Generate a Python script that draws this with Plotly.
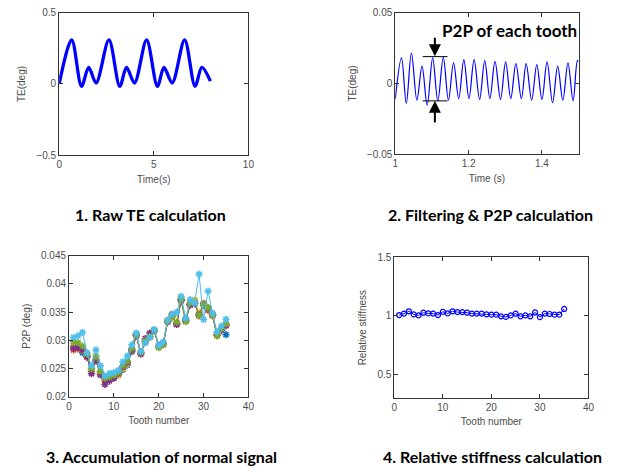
import plotly.graph_objects as go

W, H = 625, 475

# ---------- data ----------
# Panel 1: raw TE (key points)
raw_t = [0.0, 0.66, 1.18, 1.56, 1.95, 2.63, 3.20, 3.56, 3.98, 4.62, 5.19, 5.54, 5.97, 6.63, 7.18, 7.54, 7.99]
raw_te = [0.0, 0.31, -0.016, 0.116, 0.007, 0.31, -0.016, 0.116, 0.007, 0.31, -0.016, 0.116, 0.007, 0.31, -0.016, 0.116, 0.02]

# Panel 2: filtered TE (alternating peaks / troughs)
filt_t = [1.000, 1.017, 1.030, 1.044, 1.059, 1.073, 1.087, 1.102, 1.116, 1.131, 1.145, 1.159, 1.173,
          1.187, 1.201, 1.215, 1.230, 1.244, 1.258, 1.272, 1.287, 1.301, 1.315, 1.329, 1.344,
          1.357, 1.372, 1.386, 1.400, 1.414, 1.429, 1.443, 1.457, 1.471, 1.485, 1.497, 1.500]
filt_te = [-0.0110, 0.0181, -0.0141, 0.0215, -0.0118, 0.0123, -0.0153, 0.0181, -0.0123, 0.0185, -0.0118,
           0.0146, -0.0107, 0.0169, -0.0107, 0.0169, -0.0113, 0.0162, -0.0107, 0.0157, -0.0113,
           0.0153, -0.0107, 0.0141, -0.0107, 0.0141, -0.0118, 0.0134, -0.0113, 0.0153, -0.0136,
           0.0123, -0.0118, 0.0146, -0.0123, 0.0162, 0.0158]

# Panel 3: P2P per tooth, several runs
tooth = list(range(1, 36))
p2p_blue = [0.0290, 0.0288, 0.0278, 0.0272, 0.0250, 0.0266, 0.0244, 0.0232, 0.0235, 0.0236, 0.0240, 0.0248,
            0.0256, 0.0280, 0.0308, 0.0278, 0.0296, 0.0306, 0.0317, 0.0290, 0.0293, 0.0334, 0.0345, 0.0330,
            0.0372, 0.0337, 0.0364, 0.0365, 0.0347, 0.0362, 0.0355, 0.0345, 0.0310, 0.0318, 0.0310]
p2p_orange = [0.0283, 0.0285, 0.0282, 0.0270, 0.0245, 0.0265, 0.0240, 0.0228, 0.0232, 0.0234, 0.0240, 0.0252,
              0.0260, 0.0282, 0.0309, 0.0276, 0.0298, 0.0306, 0.0318, 0.0289, 0.0292, 0.0333, 0.0342, 0.0328,
              0.0370, 0.0334, 0.0362, 0.0370, 0.0343, 0.0365, 0.0353, 0.0343, 0.0309, 0.0319, 0.0327]
p2p_yellow = [0.0290, 0.0292, 0.0287, 0.0273, 0.0247, 0.0268, 0.0242, 0.0229, 0.0231, 0.0233, 0.0238, 0.0250,
              0.0258, 0.0283, 0.0310, 0.0277, 0.0300, 0.0308, 0.0318, 0.0288, 0.0294, 0.0336, 0.0344, 0.0332,
              0.0375, 0.0335, 0.0366, 0.0371, 0.0348, 0.0366, 0.0357, 0.0344, 0.0311, 0.0321, 0.0330]
p2p_purple = [0.0286, 0.0287, 0.0284, 0.0271, 0.0241, 0.0264, 0.0239, 0.0222, 0.0228, 0.0233, 0.0241, 0.0253,
              0.0261, 0.0283, 0.0310, 0.0276, 0.0303, 0.0313, 0.0317, 0.0291, 0.0295, 0.0333, 0.0346, 0.0328,
              0.0371, 0.0335, 0.0363, 0.0365, 0.0345, 0.0364, 0.0357, 0.0345, 0.0309, 0.0318, 0.0326]
p2p_green = [0.0298, 0.0296, 0.0290, 0.0276, 0.0250, 0.0272, 0.0245, 0.0234, 0.0235, 0.0238, 0.0243, 0.0255,
             0.0263, 0.0286, 0.0311, 0.0279, 0.0299, 0.0307, 0.0318, 0.0287, 0.0293, 0.0334, 0.0341, 0.0332,
             0.0373, 0.0333, 0.0366, 0.0368, 0.0344, 0.0363, 0.0358, 0.0345, 0.0308, 0.0320, 0.0329]
p2p_lightblue = [0.0305, 0.0308, 0.0314, 0.0278, 0.0255, 0.0283, 0.0255, 0.0237, 0.0241, 0.0243, 0.0247, 0.0262,
                 0.0272, 0.0292, 0.0313, 0.0280, 0.0296, 0.0305, 0.0319, 0.0291, 0.0297, 0.0336, 0.0346, 0.0350,
                 0.0378, 0.0339, 0.0372, 0.0366, 0.0417, 0.0337, 0.0387, 0.0348, 0.0315, 0.0325, 0.0337]

# Panel 4: relative stiffness
rel_stiff = [1.008, 1.020, 1.040, 1.014, 1.005, 1.028, 1.022, 1.020, 1.008, 1.036, 1.022, 1.040,
             1.033, 1.033, 1.028, 1.020, 1.020, 1.020, 1.014, 1.011, 1.011, 0.997, 0.992, 1.005,
             1.020, 0.997, 1.005, 0.997, 1.030, 0.990, 1.020, 1.017, 1.011, 1.011, 1.060]

panel_titles = ["1. Raw TE calculation", "2. Filtering & P2P calculation",
                "3. Accumulation of normal signal", "4. Relative stiffness calculation"]

# ---------- helpers ----------
def px_x(p):
    return p / W

def px_y(p):
    return 1 - p / H

AX_COL = "#333333"
TICK_FONT = dict(family="Liberation Sans, Arial", size=10, color="#4d4d4d")
TITLE_FONT = dict(family="Liberation Sans, Arial", size=10, color="#4d4d4d")

def axis(domain, rng, tickvals, title, standoff):
    return dict(domain=domain, range=rng, tickvals=tickvals, showline=True, mirror="ticks",
                linecolor=AX_COL, linewidth=1, ticks="inside", ticklen=4, tickcolor=AX_COL,
                showgrid=False, zeroline=False, tickfont=TICK_FONT,
                title=dict(text=title, font=TITLE_FONT, standoff=standoff))

fig = go.Figure()

# Panel 1
fig.add_trace(go.Scatter(x=raw_t, y=raw_te, mode="lines",
                         line=dict(color="#0000FF", width=3.3, shape="spline", smoothing=0.9),
                         xaxis="x", yaxis="y", showlegend=False))
# Panel 2
fig.add_trace(go.Scatter(x=filt_t, y=filt_te, mode="lines",
                         line=dict(color="#0000FF", width=1.2, shape="spline", smoothing=1.0),
                         xaxis="x2", yaxis="y2", showlegend=False))
# Panel 3
series = [(p2p_blue, "#0072BD"), (p2p_orange, "#D95319"), (p2p_yellow, "#EDB120"),
          (p2p_purple, "#7E2F8E"), (p2p_green, "#77AC30"), (p2p_lightblue, "#4DBEEE")]
for vals, col in series:
    fig.add_trace(go.Scatter(x=tooth, y=vals, mode="lines+markers",
                             line=dict(color=col, width=1),
                             marker=dict(symbol="asterisk-open", size=6, line=dict(color=col, width=1.5)),
                             xaxis="x3", yaxis="y3", showlegend=False))
# Panel 4
fig.add_trace(go.Scatter(x=tooth, y=rel_stiff, mode="lines+markers",
                         line=dict(color="#0000FF", width=1),
                         marker=dict(symbol="circle-open", size=5, line=dict(color="#0000FF", width=1.2)),
                         xaxis="x4", yaxis="y4", showlegend=False))

layout = dict(width=W, height=H, margin=dict(l=0, r=0, t=0, b=0),
              paper_bgcolor="white", plot_bgcolor="white")

layout["xaxis"] = axis([px_x(57), px_x(249)], [0, 10], [0, 5, 10], "Time(s)", 6)
layout["yaxis"] = axis([px_y(153), px_y(7)], [-0.5, 0.5], [-0.5, 0, 0.5], "TE(deg)", 8)
layout["xaxis2"] = axis([px_x(398), px_x(584)], [1, 1.5], [1, 1.2, 1.4], "Time (s)", 6)
layout["yaxis2"] = axis([px_y(152), px_y(7)], [-0.05, 0.05], [-0.05, 0, 0.05], "TE(deg)", 8)
layout["xaxis3"] = axis([px_x(67), px_x(249)], [0, 40], [0, 10, 20, 30, 40], "Tooth number", 6)
layout["yaxis3"] = axis([px_y(401), px_y(256)], [0.02, 0.045], [0.02, 0.025, 0.03, 0.035, 0.04, 0.045],
                        "P2P (deg)", 8)
layout["xaxis4"] = axis([px_x(397), px_x(594)], [0, 40], [0, 10, 20, 30, 40], "Tooth number", 6)
layout["yaxis4"] = axis([px_y(402), px_y(258)], [0.3, 1.5], [0.5, 1, 1.5], "Relative stiffness", 8)
for i in ["", "2", "3", "4"]:
    layout["xaxis" + i]["anchor"] = "y" + i
    layout["yaxis" + i]["anchor"] = "x" + i

# Panel titles
title_pos = [(150, 214), (495, 214), (161, 462), (497, 462)]
annotations = []
for txt, (cx, cy) in zip(panel_titles, title_pos):
    annotations.append(dict(text=txt, x=px_x(cx), y=px_y(cy), xref="paper", yref="paper",
                            xanchor="center", yanchor="middle", showarrow=False,
                            font=dict(family="Lato", size=16, color="black", weight="bold")))

# P2P annotation in panel 2
annotations.append(dict(text="P2P of each tooth", x=1.122, y=0.0375, xref="x2", yref="y2",
                        xanchor="left", yanchor="middle", showarrow=False,
                        font=dict(family="Lato", size=17, color="black", weight="bold")))
annotations.append(dict(text="", x=1.108, y=0.0192, xref="x2", yref="y2",
                        ax=1.108, ay=0.0335, axref="x2", ayref="y2", showarrow=True,
                        arrowhead=2, arrowsize=1.2, arrowwidth=2, arrowcolor="black"))
annotations.append(dict(text="", x=1.108, y=-0.0123, xref="x2", yref="y2",
                        ax=1.108, ay=-0.0287, axref="x2", ayref="y2", showarrow=True,
                        arrowhead=2, arrowsize=1.2, arrowwidth=2, arrowcolor="black"))
layout["annotations"] = annotations

layout["shapes"] = [
    dict(type="line", xref="x2", yref="y2", x0=1.075, x1=1.1425, y0=0.019, y1=0.019,
         line=dict(color="black", width=1)),
    dict(type="line", xref="x2", yref="y2", x0=1.075, x1=1.1425, y0=-0.0123, y1=-0.0123,
         line=dict(color="black", width=1)),
]

fig.update_layout(**layout)
fig.write_html("out.html")
